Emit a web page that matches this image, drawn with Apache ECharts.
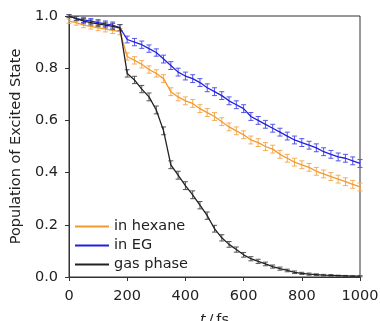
<!DOCTYPE html>
<html><head><meta charset="utf-8">
<script src="https://cdn.jsdelivr.net/npm/echarts@6/dist/echarts.min.js"></script>
<style>html,body{margin:0;padding:0;background:#fff}#c{width:380px;height:321px}</style>
</head><body><div id="c"></div>
<script>
var times = [0,25,50,75,100,125,150,175,200,225,250,275,300,325,350,375,400,425,450,475,500,525,550,575,600,625,650,675,700,725,750,775,800,825,850,875,900,925,950,975,1000];
var hexane = [0.98,0.975,0.965,0.96,0.955,0.95,0.945,0.94,0.845,0.83,0.815,0.795,0.78,0.76,0.71,0.69,0.675,0.665,0.645,0.63,0.615,0.595,0.575,0.56,0.545,0.525,0.515,0.5,0.49,0.47,0.455,0.44,0.43,0.42,0.405,0.395,0.385,0.375,0.365,0.355,0.345];
var eg = [1.0,0.99,0.985,0.98,0.975,0.97,0.965,0.955,0.91,0.9,0.89,0.875,0.86,0.835,0.81,0.785,0.77,0.76,0.745,0.725,0.71,0.695,0.675,0.66,0.645,0.615,0.6,0.585,0.57,0.555,0.54,0.525,0.515,0.505,0.495,0.48,0.47,0.46,0.455,0.445,0.435];
var gas = [1.0,0.99,0.98,0.975,0.97,0.965,0.96,0.955,0.78,0.755,0.72,0.69,0.64,0.56,0.43,0.39,0.35,0.315,0.275,0.235,0.185,0.15,0.125,0.105,0.085,0.07,0.06,0.05,0.04,0.032,0.025,0.018,0.014,0.011,0.009,0.007,0.006,0.005,0.004,0.003,0.003];
var hexaneErr = [0.008,0.01,0.01,0.01,0.011,0.011,0.012,0.012,0.014,0.014,0.014,0.014,0.014,0.015,0.015,0.015,0.015,0.015,0.015,0.015,0.015,0.015,0.015,0.015,0.015,0.015,0.015,0.015,0.015,0.015,0.015,0.015,0.015,0.015,0.015,0.015,0.015,0.015,0.015,0.015,0.015];
var egErr = [0.005,0.008,0.01,0.01,0.011,0.011,0.012,0.012,0.013,0.014,0.014,0.014,0.014,0.015,0.015,0.015,0.015,0.015,0.015,0.015,0.015,0.015,0.015,0.015,0.015,0.015,0.015,0.015,0.015,0.015,0.015,0.015,0.015,0.015,0.015,0.015,0.015,0.015,0.015,0.015,0.015];
var gasErr = [0.005,0.008,0.01,0.01,0.011,0.011,0.012,0.012,0.014,0.014,0.014,0.015,0.015,0.015,0.015,0.015,0.015,0.015,0.014,0.014,0.013,0.012,0.011,0.01,0.009,0.008,0.008,0.007,0.006,0.006,0.005,0.005,0.004,0.004,0.003,0.003,0.003,0.002,0.002,0.002,0.002];
var yTicks = [0.0,0.2,0.4,0.6,0.8,1.0];
var xTicks = [0,200,400,600,800,1000];
var seriesNames = ['in hexane','in EG','gas phase'];
var colors = ['#f39a2e','#2020e0','#222222'];
var errColors = ['#f5ad5a','#5555e8','#555555'];

function pairs(v){ return times.map(function(t,i){ return [t, v[i]]; }); }
function errData(v,e){ return times.map(function(t,i){ return [t, v[i]-e[i], v[i]+e[i]]; }); }
function errSeries(v,e,col){
  return {
    type:'custom', silent:true, z:1,
    data: errData(v,e),
    renderItem:function(params, api){
      var x = api.value(0), lo = api.value(1), hi = api.value(2);
      var p1 = api.coord([x, lo]), p2 = api.coord([x, hi]);
      var w = 2.5;
      var st = {stroke:col, lineWidth:1};
      return {type:'group', children:[
        {type:'line', shape:{x1:p1[0],y1:p1[1],x2:p2[0],y2:p2[1]}, style:st},
        {type:'line', shape:{x1:p1[0]-w,y1:p1[1],x2:p1[0]+w,y2:p1[1]}, style:st},
        {type:'line', shape:{x1:p2[0]-w,y1:p2[1],x2:p2[0]+w,y2:p2[1]}, style:st}
      ]};
    }
  };
}
var vals = [hexane, eg, gas], errs = [hexaneErr, egErr, gasErr];
var series = [];
for (var k=0;k<3;k++){
  series.push(errSeries(vals[k], errs[k], errColors[k]));
}
for (var k=0;k<3;k++){
  series.push({name:seriesNames[k], type:'line', data:pairs(vals[k]), symbol:'none', z:3,
    lineStyle:{color:colors[k], width:1.3}, itemStyle:{color:colors[k]}});
}
var font = 'DejaVu Sans';
var fs = 14.5;
var chart = echarts.init(document.getElementById('c'), null, {renderer:'canvas'});
chart.setOption({
  animation:false,
  backgroundColor:'#fff',
  textStyle:{fontFamily:font},
  grid:{left:69, right:20, top:16, bottom:44, containLabel:false, outerBoundsMode:'none',
    show:true, borderColor:'#333', borderWidth:1, backgroundColor:'transparent'},
  legend:{data:seriesNames, orient:'vertical', left:70, top:214, itemWidth:34, itemHeight:2, itemGap:4,
    textStyle:{fontFamily:font, fontSize:fs, color:'#222'}, icon:'rect'},
  xAxis:{type:'value', min:0, max:1000, interval:200,
    name:'{i|t}\u2009/\u2009fs', nameLocation:'middle', nameGap:36,
    nameTextStyle:{fontFamily:font, fontSize:fs, color:'#222', rich:{i:{fontStyle:'italic', fontFamily:font, fontSize:fs, color:'#222'}}},
    axisLine:{show:true, lineStyle:{color:'#333', width:1}},
    axisTick:{show:true, length:4, lineStyle:{color:'#333'}},
    axisLabel:{fontFamily:font, fontSize:fs, color:'#222', margin:12,
      formatter:function(v){ return xTicks.indexOf(v)>=0 ? String(v) : ''; }},
    splitLine:{show:false}},
  yAxis:{type:'value', min:0, max:1, interval:0.2,
    name:'Population of Excited State', nameLocation:'middle', nameGap:41,
    nameTextStyle:{fontFamily:font, fontSize:fs, color:'#222'},
    axisLine:{show:true, lineStyle:{color:'#333', width:1}},
    axisTick:{show:true, length:4, lineStyle:{color:'#333'}},
    axisLabel:{fontFamily:font, fontSize:fs, color:'#222', margin:11,
      formatter:function(v){ return yTicks.some(function(t){return Math.abs(t-v)<1e-9;}) ? v.toFixed(1) : ''; }},
    splitLine:{show:false}},
  series:series
});
</script></body></html>
